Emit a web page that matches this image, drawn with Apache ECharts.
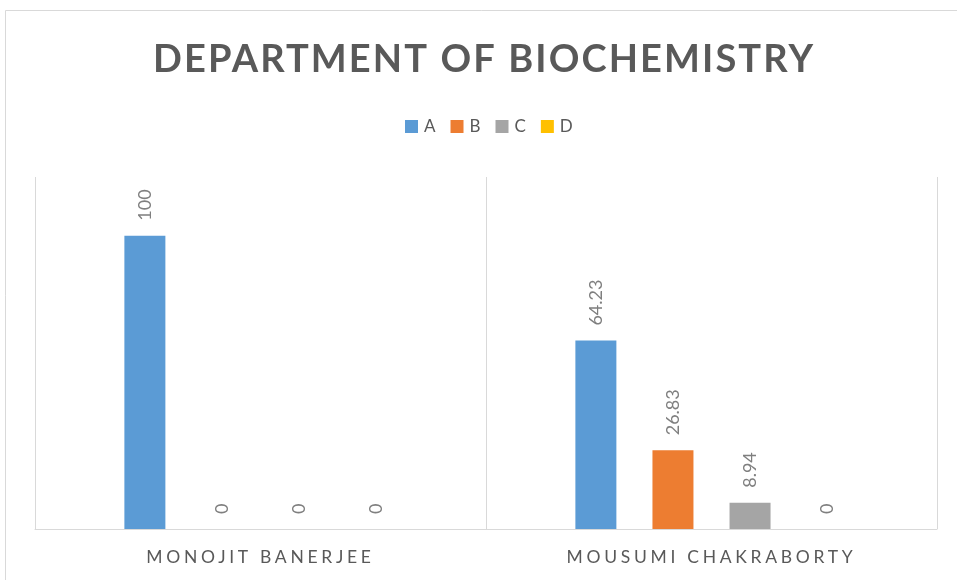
<!DOCTYPE html>
<html lang="en">
<head>
    <meta charset="UTF-8">
    <title>Department of Biochemistry</title>
    <script src="https://cdn.jsdelivr.net/npm/echarts@6/dist/echarts.min.js"></script>
    <style>
        html, body { margin: 0; padding: 0; background: #fff; }
        #show_div { width: 957px; height: 580px; }
    </style>
</head>
<body>
<div id="show_div"></div>
<script>
    // 数据
    var teachers = ['MONOJIT BANERJEE', 'MOUSUMI CHAKRABORTY'];
    var grade_names = ['A', 'B', 'C', 'D'];
    var grade_a = [100, 64.23];
    var grade_b = [0, 26.83];
    var grade_c = [0, 8.94];
    var grade_d = [0, 0];
    var grade_colors = ['#5b9bd5', '#ed7d31', '#a5a5a5', '#ffc000'];

    // Excel style spaced caps: letter spacing picked by font size
    var spacing_by_size = {'38': 2.1, '17.5': 3.7, '17': 1.2};
    var raw_fill_text = CanvasRenderingContext2D.prototype.fillText;
    CanvasRenderingContext2D.prototype.fillText = function (text, x, y, maxWidth) {
        var m = /([\d.]+)px/.exec(this.font);
        var sp = m ? (spacing_by_size[m[1]] || 0) : 0;
        if ('letterSpacing' in this) this.letterSpacing = sp + 'px';
        if (maxWidth === undefined) return raw_fill_text.call(this, text, x, y);
        return raw_fill_text.call(this, text, x, y, maxWidth);
    };

    function draw_chart() {
        var myChart = echarts.init(document.getElementById('show_div'), null, {renderer: 'canvas'});
        var grade_data = [grade_a, grade_b, grade_c, grade_d];

        var series = [];
        for (var i = 0; i < grade_names.length; i++) {
            series.push({
                name: grade_names[i],
                type: 'bar',
                data: grade_data[i],
                barWidth: 41,
                barGap: '88%',
                itemStyle: {color: grade_colors[i]},
                label: {
                    show: true,
                    position: 'top',
                    rotate: 90,
                    align: 'left',
                    verticalAlign: 'middle',
                    distance: 15,
                    color: '#7f7f7f',
                    fontSize: 18,
                    fontFamily: 'Lato',
                    textBorderWidth: 0
                }
            });
        }

        var option = {
            backgroundColor: '#fff',
            animation: false,
            title: {
                text: 'DEPARTMENT OF BIOCHEMISTRY',
                left: 153,
                top: 41,
                padding: 0,
                textStyle: {color: '#595959', fontSize: 38, fontWeight: 'bold', fontFamily: 'Lato'}
            },
            legend: {
                data: grade_names,
                left: 405,
                top: 118,
                padding: 0,
                itemWidth: 13,
                itemHeight: 13,
                itemGap: 15,
                icon: 'rect',
                textStyle: {color: '#595959', fontSize: 17, fontFamily: 'Lato', padding: [0, 0, 0, 1]}
            },
            grid: {left: 35, right: 20, top: 177, bottom: 51},
            xAxis: {
                type: 'category',
                data: teachers,
                axisLine: {lineStyle: {color: '#d9d9d9', width: 1}},
                axisTick: {show: false},
                axisLabel: {color: '#595959', fontSize: 17.5, fontFamily: 'Lato', margin: 19},
                splitLine: {show: true, interval: 0, lineStyle: {color: '#d9d9d9', width: 1}}
            },
            yAxis: {type: 'value', min: 0, max: 120, show: false},
            graphic: [{
                type: 'rect',
                silent: true,
                z: -1,
                shape: {x: 5.5, y: 10.5, width: 1000, height: 1000},
                style: {fill: 'none', stroke: '#d9d9d9', lineWidth: 1}
            }],
            series: series
        };

        myChart.setOption(option);
    }

    draw_chart();
</script>
</body>
</html>
